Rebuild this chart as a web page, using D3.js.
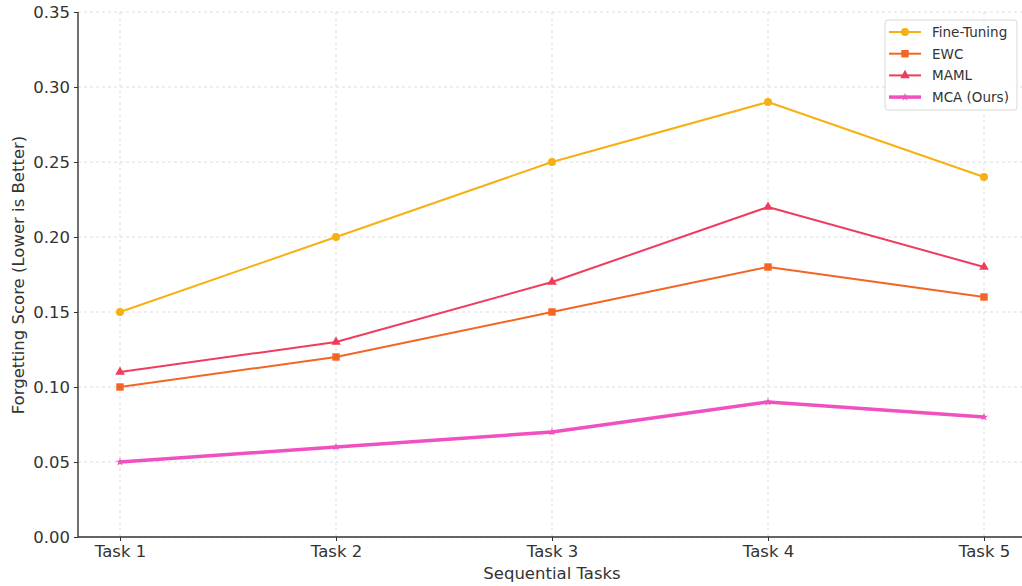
<!DOCTYPE html>
<html><head><meta charset="utf-8">
<script src="https://cdn.jsdelivr.net/npm/d3@7"></script>
<style>body{margin:0;background:#fff;} svg{display:block;}</style>
</head><body>
<script>
const categories = ["Task 1","Task 2","Task 3","Task 4","Task 5"];
const fineTuning = [0.15,0.20,0.25,0.29,0.24];
const ewc = [0.10,0.12,0.15,0.18,0.16];
const maml = [0.11,0.13,0.17,0.22,0.18];
const mca = [0.05,0.06,0.07,0.09,0.08];
const yTicks = [0,0.05,0.10,0.15,0.20,0.25,0.30,0.35];
const seriesNames = ["Fine-Tuning","EWC","MAML","MCA (Ours)"];

(function(){
const series = [
  {name:seriesNames[0], values:fineTuning, color:"#f7b011", marker:"circle", lw:2},
  {name:seriesNames[1], values:ewc, color:"#f26522", marker:"square", lw:2},
  {name:seriesNames[2], values:maml, color:"#f03c5c", marker:"triangle", lw:2},
  {name:seriesNames[3], values:mca, color:"#f050c0", marker:"star", lw:3.5}
];

const W=1022,H=586;
const svg=d3.select("body").append("svg").attr("width",W).attr("height",H);
const pLeft=78, pBottom=537, pTop=12;
const x=d3.scalePoint().domain(categories).range([120,984]);
const y=d3.scaleLinear().domain([0,0.35]).range([pBottom,pTop]);

const font="DejaVu Sans, sans-serif";
const g=svg.append("g");
g.selectAll(".hg").data(yTicks).enter().append("line")
 .attr("x1",pLeft).attr("x2",W).attr("y1",d=>y(d)).attr("y2",d=>y(d))
 .attr("stroke","#d4d4d4").attr("stroke-width",0.8).attr("stroke-dasharray","3,3");
g.selectAll(".vg").data(categories).enter().append("line")
 .attr("x1",d=>x(d)).attr("x2",d=>x(d)).attr("y1",pTop).attr("y2",pBottom)
 .attr("stroke","#d4d4d4").attr("stroke-width",0.8).attr("stroke-dasharray","3,3");

const yAxis=d3.axisLeft(y).tickValues(yTicks).tickFormat(d3.format(".2f")).tickSize(4).tickSizeOuter(0);
const ya=svg.append("g").attr("transform",`translate(${pLeft},0)`).call(yAxis);
const xAxis=d3.axisBottom(x).tickSize(4).tickSizeOuter(0);
const xa=svg.append("g").attr("transform",`translate(0,${pBottom})`).call(xAxis);
[ya,xa].forEach(a=>{
  a.select(".domain").attr("stroke","#333").attr("stroke-width",1.4);
  a.selectAll(".tick line").attr("stroke","#333");
  a.selectAll(".tick text").attr("fill","#333").style("font-family",font).style("font-size","16.5px");
});
ya.select(".domain").attr("d",`M0,${pTop}V${pBottom}`);
xa.select(".domain").attr("d",`M${pLeft},0H${W}`);
ya.selectAll(".tick text").attr("x",-8);
xa.selectAll(".tick text").attr("y",8);

svg.append("text").attr("x",552).attr("y",579).attr("text-anchor","middle")
 .style("font-family",font).style("font-size","16.5px").attr("fill","#333").text("Sequential Tasks");
svg.append("text").attr("transform","translate(24,275) rotate(-90)").attr("text-anchor","middle")
 .style("font-family",font).style("font-size","16.5px").attr("fill","#333").text("Forgetting Score (Lower is Better)");

const symMap={circle:d3.symbolCircle,square:d3.symbolSquare,triangle:d3.symbolTriangle,star:d3.symbolStar};
const symSize={circle:50,square:55,triangle:40,star:22};
const line=d3.line().x((d,i)=>x(categories[i])).y(d=>y(d));
series.forEach(s=>{
  svg.append("path").datum(s.values).attr("d",line).attr("fill","none")
   .attr("stroke",s.color).attr("stroke-width",s.lw).attr("stroke-linejoin","round");
  svg.selectAll(null).data(s.values).enter().append("path")
   .attr("d",d3.symbol().type(symMap[s.marker]).size(symSize[s.marker]))
   .attr("transform",(d,i)=>`translate(${x(categories[i])},${y(d)})`)
   .attr("fill",s.color);
});

const lg=svg.append("g");
lg.append("rect").attr("x",885).attr("y",20).attr("width",132).attr("height",90).attr("rx",3)
 .attr("fill","#fff").attr("fill-opacity",0.85).attr("stroke","#d8d8d8");
series.forEach((s,i)=>{
  const yy=32+i*21.7;
  lg.append("line").attr("x1",889).attr("x2",921).attr("y1",yy).attr("y2",yy)
   .attr("stroke",s.color).attr("stroke-width",s.lw);
  lg.append("path").attr("d",d3.symbol().type(symMap[s.marker]).size(symSize[s.marker]))
   .attr("transform",`translate(905,${yy})`).attr("fill",s.color);
  lg.append("text").attr("x",932).attr("y",yy+4.8).style("font-family",font).style("font-size","13.5px")
   .attr("fill","#333").text(s.name);
});
})();
</script>
</body></html>
